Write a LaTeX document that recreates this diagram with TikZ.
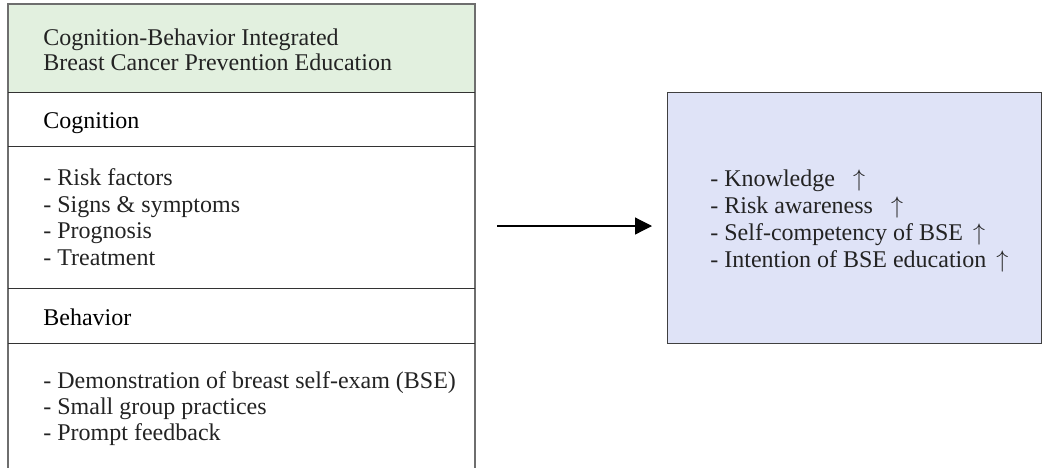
\documentclass[tikz,border=0pt]{standalone}
\usepackage{fontspec}
\setmainfont{Liberation Serif}
\usetikzlibrary{arrows.meta}
\definecolor{hdrgreen}{RGB}{226,240,223}
\definecolor{outblue}{RGB}{223,227,247}
\definecolor{txt}{RGB}{35,35,35}
\definecolor{edgegray}{RGB}{110,110,110}
\begin{document}
\begin{tikzpicture}[x=0.5pt,y=-0.5pt,
  font=\fontsize{12}{13}\selectfont,
  txtline/.style={anchor=base west, inner sep=0pt, text=txt},
  headline/.style={anchor=base west, inner sep=0pt, text=black},
  section/.style={anchor=north west, inner sep=0pt, minimum width=233pt, draw=none},
  divider/.style={draw=black!80, line width=0.6pt},
  outer/.style={draw=edgegray, line width=0.75pt},
  upa/.style={}]
\useasboundingbox (0,0) rectangle (1043,467);

% left panel sections
\node[section, fill=hdrgreen, minimum height=44pt] (hdr) at (8,4) {};
\node[section, minimum height=27pt] (cog) at (8,92) {};
\node[section, minimum height=71pt] (coglist) at (8,146) {};
\node[section, minimum height=27.5pt] (beh) at (8,288) {};
\node[section, minimum height=62pt] (behlist) at (8,343) {};

% borders of the left panel
\draw[outer] (behlist.south west) -- (hdr.north west) -- (hdr.north east) -- (behlist.south east);
\draw[divider] (hdr.south west) -- (hdr.south east);
\draw[divider] (cog.south west) -- (cog.south east);
\draw[divider] (coglist.south west) -- (coglist.south east);
\draw[divider] (beh.south west) -- (beh.south east);

% texts of the left panel
\node[txtline] (t1) at (43,45) {Cognition-Behavior Integrated};
\node[txtline] (t2) at (43,70.5) {Breast Cancer Prevention Education};
\node[headline] (hc) at (43,128) {Cognition};
\node[txtline] (c1) at (43,185.5) {- Risk factors};
\node[txtline] (c2) at (43,212) {- Signs \& symptoms};
\node[txtline] (c3) at (43,238.5) {- Prognosis};
\node[txtline] (c4) at (43,265) {- Treatment};
\node[headline] (hb) at (43,325) {Behavior};
\node[txtline] (b1) at (43,388) {- Demonstration of breast self-exam (BSE)};
\node[txtline] (b2) at (43,414) {- Small group practices};
\node[txtline] (b3) at (43,440) {- Prompt feedback};

% outcome box
\node[anchor=north west, inner sep=0pt, minimum width=187pt, minimum height=125.5pt,
      fill=outblue, draw=black!75, line width=0.7pt] (outbox) at (667,92) {};
\node[txtline] (o1) at (710,186) {- Knowledge\hspace{9pt}$\uparrow$};
\node[txtline] (o2) at (710,213) {- Risk awareness\hspace{9pt}$\uparrow$};
\node[txtline] (o3) at (710,240) {- Self-competency of BSE\hspace{5pt}$\uparrow$};
\node[txtline] (o4) at (710,267) {- Intention of BSE education\hspace{5pt}$\uparrow$};

% connector
\coordinate (as) at (497,226);
\draw[line width=0.6pt, -{Triangle[length=8.5pt,width=8.5pt]}, shorten >=7.5pt]
  (as) -- (as -| outbox.west);
\end{tikzpicture}
\end{document}
